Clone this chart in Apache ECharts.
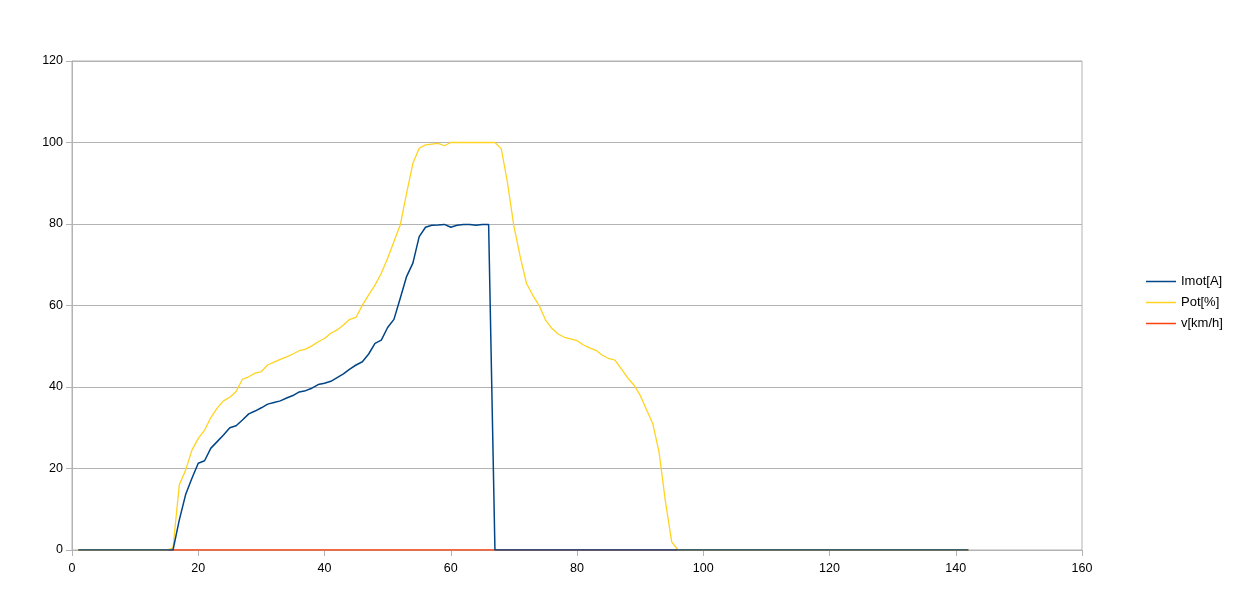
<!DOCTYPE html>
<html>
<head>
<meta charset="utf-8">
<script src="https://cdn.jsdelivr.net/npm/echarts@6/dist/echarts.min.js"></script>
<style>html,body{margin:0;padding:0;background:#fff}#c{width:1235px;height:604px}</style>
</head>
<body>
<div id="c"></div>
<script>
// x positions 1..142
const xStart = 1;
const xEnd = 142;
const seriesNames = ['Imot[A]', 'Pot[%]', 'v[km/h]'];
// Imot[A] values from x=16 to x=67 (zero elsewhere)
const imotX0 = 16;
const imotValues = [0, 7.4, 13.6, 17.6, 21.3, 21.9, 25.0, 26.6, 28.2, 30.0,
  30.5, 31.9, 33.4, 34.1, 34.9, 35.8, 36.2, 36.6, 37.3, 37.9,
  38.8, 39.1, 39.7, 40.6, 40.9, 41.4, 42.3, 43.2, 44.4, 45.4,
  46.2, 48.1, 50.7, 51.5, 54.6, 56.6, 61.8, 67.1, 70.4, 76.9,
  79.2, 79.7, 79.75, 79.9, 79.2, 79.7, 79.9, 79.9, 79.7, 79.9,
  79.9, 0];
// Pot[%] values from x=16 to x=96 (zero elsewhere)
const potX0 = 16;
const potValues = [0.5, 16.0, 19.6, 24.5, 27.4, 29.4, 32.5, 34.8, 36.6, 37.5,
  38.9, 41.9, 42.5, 43.4, 43.8, 45.4, 46.1, 46.8, 47.4, 48.1,
  48.9, 49.3, 50.1, 51.1, 51.9, 53.2, 54.0, 55.2, 56.6, 57.1,
  60.1, 62.6, 65.0, 67.9, 71.6, 75.7, 79.75, 87.5, 94.9, 98.6,
  99.4, 99.6, 99.8, 99.2, 100, 100, 100, 100, 100, 100,
  100, 100, 98.5, 90.0, 79.5, 72.0, 65.4, 62.5, 60.0, 56.5,
  54.4, 53.0, 52.2, 51.8, 51.4, 50.3, 49.6, 49.0, 47.8, 47.0,
  46.6, 44.5, 42.3, 40.5, 38.0, 34.5, 31.0, 24.0, 12.0, 2.0,
  0];
// v[km/h] values: all zero over the whole range
const vValue = 0;
const xTicks = [0, 20, 40, 60, 80, 100, 120, 140, 160];
const yTicks = [0, 20, 40, 60, 80, 100, 120];

function build(x0, vals) {
  const out = [];
  for (let x = xStart; x <= xEnd; x++) {
    const i = x - x0;
    out.push([x, (i >= 0 && i < vals.length) ? vals[i] : 0]);
  }
  return out;
}
const imotData = build(imotX0, imotValues);
const potData = build(potX0, potValues);
const vData = [];
for (let x = xStart; x <= xEnd; x++) vData.push([x, vValue]);

const chart = echarts.init(document.getElementById('c'), null, {renderer: 'canvas'});
const font = 'Liberation Sans, Arial, sans-serif';
chart.setOption({
  animation: false,
  backgroundColor: '#ffffff',
  grid: {left: 72, right: 153, top: 61, bottom: 54, show: true, borderColor: '#b3b3b3', borderWidth: 1},
  legend: {
    orient: 'vertical', left: 1146, top: 275, padding: 0, itemGap: 8, itemWidth: 30, itemHeight: 12,
    icon: 'path://M0,0 L30,0 L30,1.5 L0,1.5 Z',
    textStyle: {fontFamily: font, fontSize: 13, color: '#000'},
    data: seriesNames
  },
  xAxis: {
    type: 'value', min: xTicks[0], max: xTicks[xTicks.length - 1], interval: 20,
    axisLine: {lineStyle: {color: '#b3b3b3'}},
    axisTick: {show: true, length: 6, lineStyle: {color: '#b3b3b3'}},
    axisLabel: {fontFamily: font, fontSize: 12.5, color: '#000', margin: 12},
    splitLine: {show: false}
  },
  yAxis: {
    type: 'value', min: yTicks[0], max: yTicks[yTicks.length - 1], interval: 20,
    axisLine: {show: true, lineStyle: {color: '#b3b3b3'}},
    axisTick: {show: true, length: 6, lineStyle: {color: '#b3b3b3'}},
    axisLabel: {fontFamily: font, fontSize: 12.5, color: '#000', margin: 9},
    splitLine: {show: true, lineStyle: {color: '#b3b3b3', width: 1}}
  },
  series: [
    {name: seriesNames[2], type: 'line', data: vData, showSymbol: false, symbol: 'none', z: 2,
      itemStyle: {color: '#ff420e'}, lineStyle: {color: '#ff420e', width: 1.3}},
    {name: seriesNames[1], type: 'line', data: potData, showSymbol: false, symbol: 'none', z: 3,
      itemStyle: {color: '#ffd320'}, lineStyle: {color: '#ffd320', width: 1.3}},
    {name: seriesNames[0], type: 'line', data: imotData, showSymbol: false, symbol: 'none', z: 4,
      itemStyle: {color: '#004586'}, lineStyle: {color: '#004586', width: 1.5}}
  ]
});
</script>
</body>
</html>
